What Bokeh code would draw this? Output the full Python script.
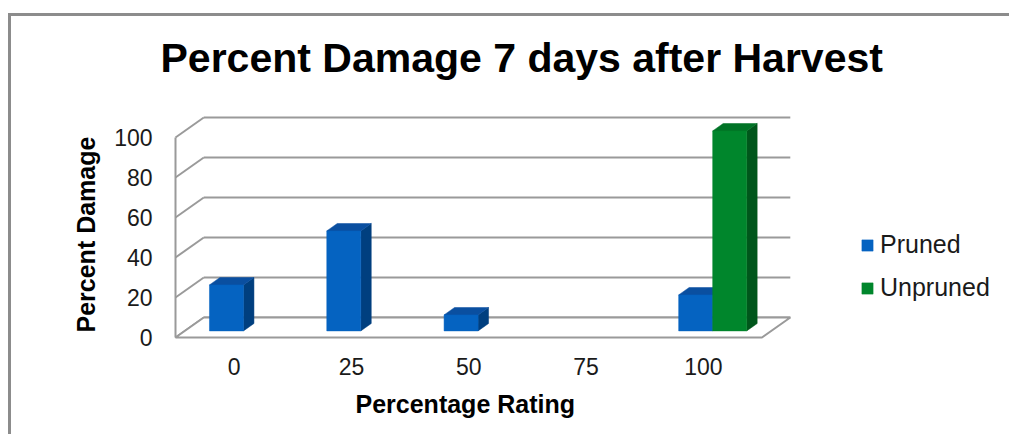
from bokeh.plotting import figure
from bokeh.models import (ColumnDataSource, FixedTicker, Legend, LegendItem, Range1d, Title)
from bokeh.embed import file_html
from bokeh.resources import INLINE

# ---- data ----
categories = ["0", "25", "50", "75", "100"]
pruned = [23, 50, 8, 0, 18]
unpruned = [0, 0, 0, 0, 100]
y_ticks = [0, 20, 40, 60, 80, 100]

# ---- 3D-look geometry (in data units) ----
PX_PER_X = 117.3           # pixels per category
DX = 28.3 / PX_PER_X       # depth offset in x
DY = 10.0                  # depth offset in y (value units)
F0, F1 = 0.33, 0.70        # bar depth span (fraction of floor depth)
W = 0.29                   # bar width (category units)
N = len(categories)

FONT = "Liberation Sans"
GRID = "#9a9a9a"

W_FIG, H_FIG = 1001, 421
ML, MR, MT, MB = 162, 0, 80, 98
frame_w = W_FIG - ML - MR
x0 = -2.0 / PX_PER_X
x1 = x0 + frame_w / PX_PER_X

p = figure(width=W_FIG, height=H_FIG, output_backend="svg", toolbar_location=None,
           x_range=Range1d(x0, x1), y_range=Range1d(-1, 120.5),
           min_border_left=ML, min_border_right=MR, min_border_top=MT, min_border_bottom=MB,
           outline_line_color=None, background_fill_color="white",
           title="Percent Damage 7 days after Harvest")
p.styles = {"border-top": "3px solid #8c8c8c", "border-left": "3px solid #8c8c8c",
            "margin-top": "13px", "margin-left": "8px"}
p.xgrid.visible = False
p.ygrid.visible = False

p.title.text_font = FONT
p.title.text_font_size = "41px"
p.title.text_font_style = "bold"
p.title.text_color = "#000000"
p.title.align = "left"
p.title.offset = -13
p.title.standoff = 31

# ---- walls / floor ----
p.segment(x0=[DX] * len(y_ticks), y0=[t + DY for t in y_ticks],
          x1=[N + DX] * len(y_ticks), y1=[t + DY for t in y_ticks],
          line_color=GRID, line_width=2)
p.segment(x0=[0] * len(y_ticks), y0=y_ticks,
          x1=[DX] * len(y_ticks), y1=[t + DY for t in y_ticks],
          line_color=GRID, line_width=2)
p.segment(x0=[0], y0=[0], x1=[0], y1=[max(y_ticks)], line_color=GRID, line_width=2)
p.patch(x=[0, N, N + DX, DX], y=[0, 0, DY, DY], fill_color="white",
        line_color=GRID, line_width=2)


def faces(values, offset):
    fx0, fx1, fb, ft = [], [], [], []
    txs, tys, sxs, sys_ = [], [], [], []
    for i, v in enumerate(values):
        if v <= 0:
            continue
        c = i + 0.5
        a = c + offset
        b = a + W
        ax, bx = a + F0 * DX, b + F0 * DX
        base, top = F0 * DY, v + F0 * DY
        fx0.append(ax); fx1.append(bx); fb.append(base); ft.append(top)
        txs.append([ax, bx, b + F1 * DX, a + F1 * DX])
        tys.append([top, top, v + F1 * DY, v + F1 * DY])
        sxs.append([bx, bx, b + F1 * DX, b + F1 * DX])
        sys_.append([base, top, v + F1 * DY, F1 * DY])
    return (ColumnDataSource(dict(left=fx0, right=fx1, bottom=fb, top=ft)),
            ColumnDataSource(dict(xs=txs, ys=tys)),
            ColumnDataSource(dict(xs=sxs, ys=sys_)))


series = [
    ("Pruned", pruned, -W, "#0563C1", "#0A4FA0", "#003F7F"),
    ("Unpruned", unpruned, 0.0, "#00862C", "#007326", "#00561B"),
]
items = []
for name, vals, off, c_front, c_top, c_side in series:
    fsrc, tsrc, ssrc = faces(vals, off)
    p.patches("xs", "ys", source=ssrc, fill_color=c_side, line_color=c_side, line_width=0.5)
    p.patches("xs", "ys", source=tsrc, fill_color=c_top, line_color=c_top, line_width=0.5)
    r = p.quad(left="left", right="right", bottom="bottom", top="top", source=fsrc,
               fill_color=c_front, line_color=c_front, line_width=0.5)
    items.append(LegendItem(label=name, renderers=[r]))

legend = Legend(items=items, location=(687, 37), padding=0, spacing=14, margin=0,
                glyph_width=14, glyph_height=14, label_height=28, label_standoff=6,
                label_text_font=FONT, label_text_font_size="25px",
                label_text_color="#1a1a1a", border_line_color=None,
                background_fill_alpha=0)
p.add_layout(legend, "center")

# ---- axes ----
p.yaxis.ticker = FixedTicker(ticks=y_ticks)
p.yaxis.axis_line_color = None
p.yaxis.major_tick_line_color = None
p.yaxis.major_tick_out = 0
p.yaxis.major_tick_in = 0
p.yaxis.minor_tick_line_color = None
p.yaxis.major_label_standoff = 21
p.yaxis.major_label_text_font = FONT
p.yaxis.major_label_text_font_size = "23px"
p.yaxis.major_label_text_color = "#1a1a1a"

p.xaxis.ticker = FixedTicker(ticks=[i + 0.5 for i in range(N)])
p.xaxis.major_label_overrides = {i + 0.5: c for i, c in enumerate(categories)}
p.xaxis.axis_line_color = None
p.xaxis.major_tick_line_color = None
p.xaxis.major_tick_out = 0
p.xaxis.major_tick_in = 0
p.xaxis.minor_tick_line_color = None
p.xaxis.major_label_standoff = 18
p.xaxis.major_label_text_font = FONT
p.xaxis.major_label_text_font_size = "23px"
p.xaxis.major_label_text_color = "#1a1a1a"

# axis titles, positioned against the front plane of the 3D box
ytitle = Title(text="Percent Damage", align="left", offset=7, standoff=24,
               text_font=FONT, text_font_size="25px", text_font_style="bold",
               text_color="#000000")
p.add_layout(ytitle, "left")

xtitle = Title(text="Percentage Rating", align="left", offset=182, standoff=20,
               text_font=FONT, text_font_size="25px", text_font_style="bold",
               text_color="#000000")
p.add_layout(xtitle, "below")

open("out.html", "w").write(file_html(p, INLINE))
